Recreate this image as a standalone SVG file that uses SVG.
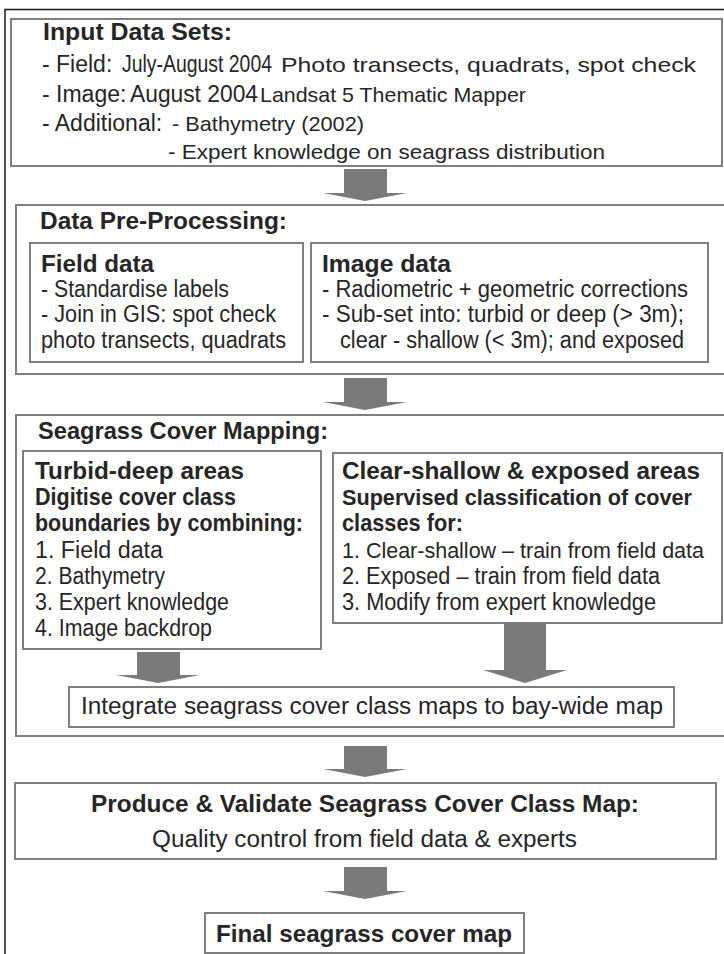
<svg xmlns="http://www.w3.org/2000/svg" width="724" height="954" viewBox="0 0 724 954">
  <style>
    .frame { fill: none; stroke: #1a1a1a; stroke-width: 1.5; }
    .box { fill: #ffffff; stroke: #7f7f7f; stroke-width: 2; }
    .arrow { fill: #7a7a7a; }
    text { font-family: "Liberation Sans", Arial, sans-serif; fill: #262626; }
    .h { font-size: 24px; font-weight: bold; }
    .b { font-size: 23px; }
    .s { font-size: 21px; }
  </style>
  <rect width="724" height="954" fill="#ffffff"/>
  <!-- outer frame, right and bottom edges run past the page -->
  <rect class="frame" x="5" y="9.5" width="740" height="960"/>

  <g id="input-data">
    <rect class="box" x="11" y="19" width="711" height="147"/>
    <text class="h" x="43" y="40" textLength="189" lengthAdjust="spacingAndGlyphs">Input Data Sets:</text>
    <text class="b" y="72"><tspan x="42">- Field:</tspan><tspan x="122" textLength="150" lengthAdjust="spacingAndGlyphs">July-August 2004</tspan><tspan class="s" x="281" textLength="415" lengthAdjust="spacingAndGlyphs">Photo transects, quadrats, spot check</tspan></text>
    <text class="b" y="102"><tspan x="42">- Image:</tspan><tspan x="130" textLength="128" lengthAdjust="spacingAndGlyphs">August 2004</tspan><tspan class="s" x="260" textLength="266" lengthAdjust="spacingAndGlyphs">Landsat 5 Thematic Mapper</tspan></text>
    <text class="b" y="131"><tspan x="42">- Additional:</tspan><tspan class="s" x="172" textLength="192" lengthAdjust="spacingAndGlyphs">- Bathymetry (2002)</tspan></text>
    <text class="s" x="168" y="159" textLength="437" lengthAdjust="spacingAndGlyphs">- Expert knowledge on seagrass distribution</text>
  </g>

  <g id="pre-processing">
    <rect class="box" x="16" y="205" width="730" height="169"/>
    <text class="h" x="40" y="229" textLength="247" lengthAdjust="spacingAndGlyphs">Data Pre-Processing:</text>
  </g>

  <g id="field-data">
    <rect class="box" x="30" y="243" width="273" height="119"/>
    <text class="h" x="41" y="272" textLength="113" lengthAdjust="spacingAndGlyphs">Field data</text>
    <text class="b" x="41" y="297" textLength="188" lengthAdjust="spacingAndGlyphs">- Standardise labels</text>
    <text class="b" x="41" y="322" textLength="235" lengthAdjust="spacingAndGlyphs">- Join in GIS: spot check</text>
    <text class="b" x="41" y="348" textLength="245" lengthAdjust="spacingAndGlyphs">photo transects, quadrats</text>
  </g>

  <g id="image-data">
    <rect class="box" x="311" y="243" width="397" height="119"/>
    <text class="h" x="322" y="272" textLength="129" lengthAdjust="spacingAndGlyphs">Image data</text>
    <text class="b" x="322" y="297" textLength="366" lengthAdjust="spacingAndGlyphs">-  Radiometric + geometric corrections</text>
    <text class="b" x="322" y="322" textLength="362" lengthAdjust="spacingAndGlyphs">-  Sub-set into: turbid or deep (&gt; 3m);</text>
    <text class="b" x="340" y="348" textLength="344" lengthAdjust="spacingAndGlyphs">clear - shallow (&lt; 3m); and exposed</text>
  </g>

  <g id="cover-mapping">
    <rect class="box" x="16" y="415" width="730" height="321"/>
    <text class="h" x="38" y="439" textLength="290" lengthAdjust="spacingAndGlyphs">Seagrass Cover Mapping:</text>
  </g>

  <g id="turbid-deep">
    <rect class="box" x="23" y="451" width="298" height="198"/>
    <text class="h" x="35" y="479" textLength="209" lengthAdjust="spacingAndGlyphs">Turbid-deep areas</text>
    <text class="h" x="35" y="505" textLength="201" lengthAdjust="spacingAndGlyphs">Digitise cover class</text>
    <text class="h" x="35" y="531" textLength="268" lengthAdjust="spacingAndGlyphs">boundaries by combining:</text>
    <text class="b" x="35" y="558" textLength="128" lengthAdjust="spacingAndGlyphs">1. Field data</text>
    <text class="b" x="35" y="584" textLength="130" lengthAdjust="spacingAndGlyphs">2. Bathymetry</text>
    <text class="b" x="35" y="610" textLength="194" lengthAdjust="spacingAndGlyphs">3. Expert knowledge</text>
    <text class="b" x="35" y="636" textLength="177" lengthAdjust="spacingAndGlyphs">4. Image backdrop</text>
  </g>

  <g id="clear-shallow">
    <rect class="box" x="333" y="453" width="389" height="170"/>
    <text class="h" x="342" y="479" textLength="358" lengthAdjust="spacingAndGlyphs" style="font-size:23px">Clear-shallow &amp; exposed areas</text>
    <text class="h" x="342" y="505" textLength="350" lengthAdjust="spacingAndGlyphs" style="font-size:22px">Supervised classification of cover</text>
    <text class="h" x="342" y="531" textLength="121" lengthAdjust="spacingAndGlyphs">classes for:</text>
    <text class="b" x="342" y="558" textLength="362" lengthAdjust="spacingAndGlyphs" style="font-size:21.5px">1. Clear-shallow – train from field data</text>
    <text class="b" x="342" y="584" textLength="318" lengthAdjust="spacingAndGlyphs">2. Exposed – train from field data</text>
    <text class="b" x="342" y="610" textLength="314" lengthAdjust="spacingAndGlyphs">3. Modify from expert knowledge</text>
  </g>

  <g id="integrate">
    <rect class="box" x="69" y="687" width="605" height="40"/>
    <text class="b" x="81" y="714" textLength="582" lengthAdjust="spacingAndGlyphs">Integrate seagrass cover class maps to bay-wide map</text>
  </g>

  <g id="produce-validate">
    <rect class="box" x="15" y="783" width="701" height="76"/>
    <text class="h" x="91" y="812" textLength="548" lengthAdjust="spacingAndGlyphs">Produce &amp; Validate Seagrass Cover Class Map:</text>
    <text class="b" x="152" y="847" textLength="425" lengthAdjust="spacingAndGlyphs">Quality control from field data &amp; experts</text>
  </g>

  <g id="final-map">
    <rect class="box" x="205" y="913" width="319" height="40"/>
    <text class="h" x="216" y="942" textLength="296" lengthAdjust="spacingAndGlyphs">Final seagrass cover map</text>
  </g>

  <!-- block arrows between stages -->
  <g id="connectors" class="arrow">
    <path d="M344,169 H387 V193 H407 L365,201 L323,193 H344 Z"/>
    <path d="M344,378 H387 V402 H407 L365,410 L323,402 H344 Z"/>
    <path d="M137,652 H180 V675 H200 L158,683 L116,675 H137 Z"/>
    <path d="M504,623 H546 V670 H567 L525,683 L483,670 H504 Z"/>
    <path d="M344,746 H387 V769 H407 L365,777 L323,769 H344 Z"/>
    <path d="M344,867 H387 V891 H407 L365,899 L323,891 H344 Z"/>
  </g>
</svg>
